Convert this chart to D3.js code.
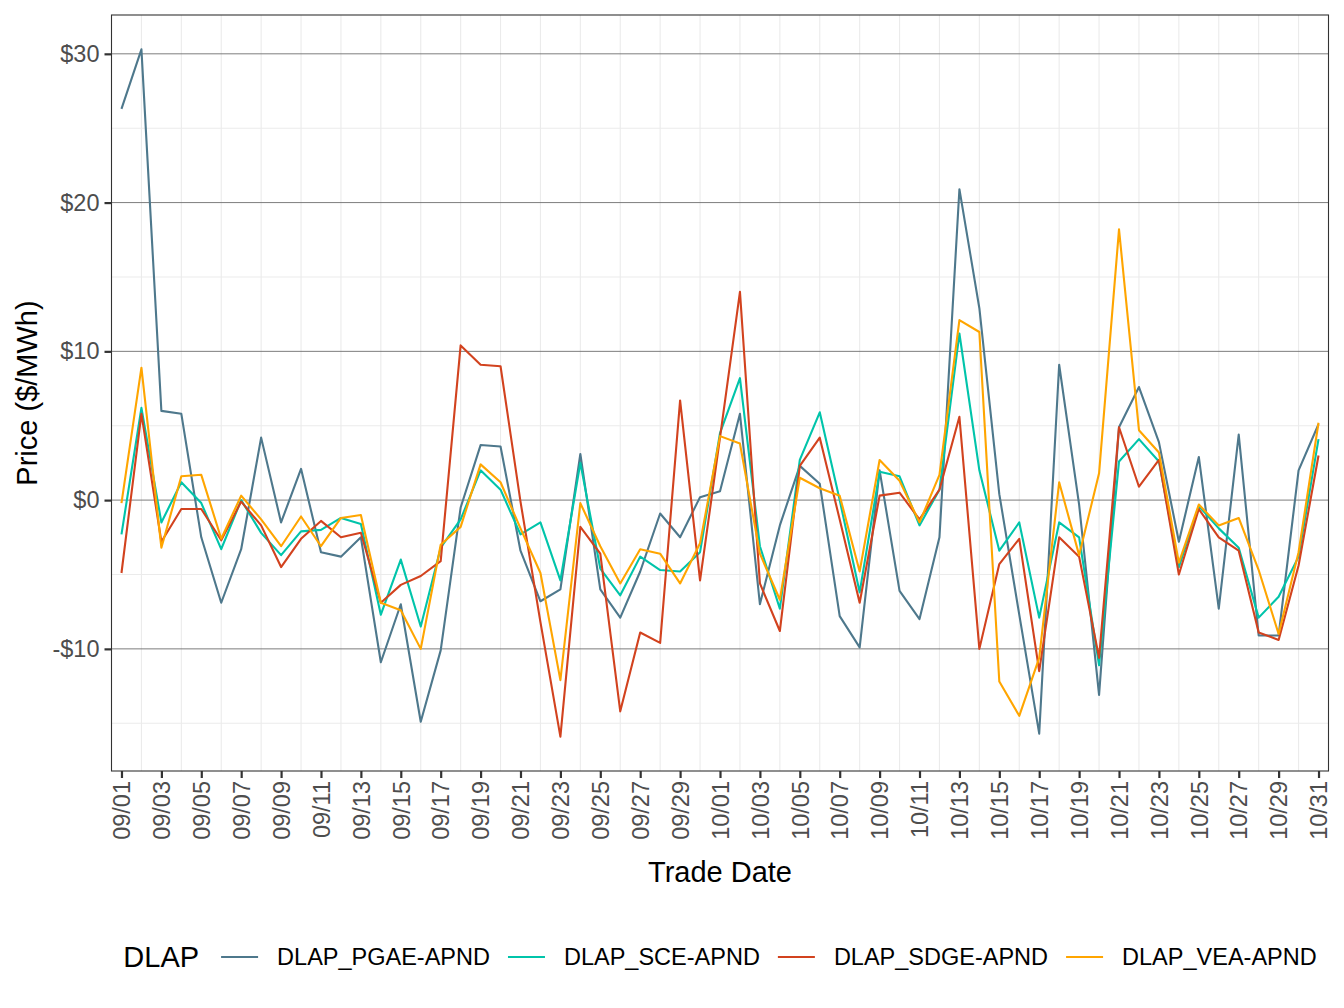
<!DOCTYPE html>
<html>
<head>
<meta charset="utf-8">
<script src="https://cdn.jsdelivr.net/npm/d3@7"></script>
<style>
body { margin: 0; background: #fff; }
text { font-family: "Liberation Sans", Arial, Helvetica, sans-serif; }
</style>
</head>
<body>
<div id="vis"></div>
<script>
//trade dates, 09/01 to 10/31
var dates = d3.timeDay.range(new Date(2023, 8, 1), new Date(2023, 10, 1)).map(d3.timeFormat("%m/%d"));

//daily DLAP prices ($/MWh)
var pgae = [26.3, 30.3, 6.0, 5.8, -2.5, -6.9, -3.3, 4.2, -1.5, 2.1,
  -3.5, -3.8, -2.5, -10.9, -7.0, -14.9, -10.1, -0.5, 3.7, 3.6,
  -3.4, -6.8, -6.0, 3.1, -6.0, -7.9, -4.8, -0.9, -2.5, 0.2,
  0.6, 5.8, -7.0, -1.7, 2.3, 1.1, -7.8, -9.9, 2.0, -6.1,
  -8.0, -2.5, 20.9, 12.9, 0.4, -7.7, -15.7, 9.1, -0.3, -13.1,
  4.9, 7.6, 3.9, -2.8, 2.9, -7.3, 4.4, -9.1, -9.1, 2.0, 5.1];
var sce = [-2.3, 6.2, -1.5, 1.2, -0.2, -3.3, 0.0, -2.2, -3.7, -2.1,
  -2.0, -1.2, -1.6, -7.7, -4.0, -8.5, -3.2, -1.3, 2.0, 0.7,
  -2.3, -1.5, -5.4, 2.5, -4.6, -6.4, -3.8, -4.7, -4.8, -3.5,
  4.5, 8.2, -3.1, -7.3, 2.7, 5.9, 0.0, -6.2, 1.9, 1.6,
  -1.7, 0.7, 11.2, 2.0, -3.4, -1.5, -7.9, -1.5, -2.5, -11.1,
  2.6, 4.1, 2.6, -4.5, -0.4, -1.9, -3.2, -7.9, -6.5, -3.8, 4.1];
var sdge = [-4.9, 5.8, -2.8, -0.6, -0.6, -2.7, -0.1, -1.7, -4.5, -2.6,
  -1.4, -2.5, -2.2, -6.9, -5.7, -5.1, -4.1, 10.4, 9.1, 9.0,
  -0.1, -8.2, -15.9, -1.8, -3.6, -14.2, -8.9, -9.6, 6.7, -5.4,
  4.2, 14.0, -5.6, -8.8, 2.3, 4.2, -1.3, -6.9, 0.3, 0.5,
  -1.3, 0.7, 5.6, -10.0, -4.3, -2.6, -11.5, -2.5, -3.8, -10.6,
  4.9, 0.9, 2.7, -5.0, -0.6, -2.5, -3.4, -8.9, -9.4, -4.4, 3.0];
var vea = [-0.2, 8.9, -3.2, 1.6, 1.7, -2.6, 0.3, -1.3, -3.1, -1.1,
  -3.1, -1.2, -1.0, -6.9, -7.4, -10.0, -3.0, -1.8, 2.4, 1.2,
  -1.9, -4.9, -12.1, -0.2, -3.1, -5.6, -3.3, -3.6, -5.6, -2.9,
  4.3, 3.8, -3.6, -6.7, 1.5, 0.8, 0.3, -4.8, 2.7, 1.3,
  -1.5, 1.7, 12.1, 11.3, -12.2, -14.5, -10.6, 1.2, -3.7, 1.8,
  18.2, 4.7, 3.2, -4.2, -0.3, -1.7, -1.2, -4.7, -9.0, -3.5, 5.2];

var seriesNames = ["DLAP_PGAE-APND", "DLAP_SCE-APND", "DLAP_SDGE-APND", "DLAP_VEA-APND"];
var seriesColors = ["#4E788C", "#00C4AA", "#D2421E", "#FFA500"];
var yTicks = [-10, 0, 10, 20, 30];
var yMinor = [-15, -5, 5, 15, 25];

var series = [pgae, sce, sdge, vea].map(function(vals, k) {
  return { name: seriesNames[k], values: vals.map(function(v, i) { return { date: dates[i], value: v }; }) };
});

var w = 1344;
var h = 1008;
var pLeft = 111.5, pRight = 1328.5, pTop = 15, pBottom = 771;

var svg = d3.select("#vis")
.append("svg")
.attr("width", w)
.attr("height", h);

//scale for x (one slot per trade date)
var x = d3.scalePoint()
.domain(dates)
.range([pLeft, pRight])
.padding(0.5)

//scale for y, ggplot style 5% expansion
var all = [].concat(pgae, sce, sdge, vea);
var lo = d3.min(all), hi = d3.max(all);
var pad = (hi - lo) * 0.05;
var y = d3.scaleLinear()
.domain([lo - pad, hi + pad])
.range([pBottom, pTop])

var colors = d3.scaleOrdinal()
.domain(seriesNames)
.range(seriesColors)

//grid lines
var grid = svg.append("g");
grid.selectAll(".xminor")
.data(dates.filter(function(d, i) { return i % 2 == 1; }))
.enter()
.append("line")
.attr("x1", d => x(d)).attr("x2", d => x(d))
.attr("y1", pTop).attr("y2", pBottom)
.attr("stroke", "#EBEBEB").attr("stroke-width", 1.1)

grid.selectAll(".yminor")
.data(yMinor)
.enter()
.append("line")
.attr("x1", pLeft).attr("x2", pRight)
.attr("y1", d => y(d)).attr("y2", d => y(d))
.attr("stroke", "#EBEBEB").attr("stroke-width", 1.1)

grid.selectAll(".ymajor")
.data(yTicks)
.enter()
.append("line")
.attr("x1", pLeft).attr("x2", pRight)
.attr("y1", d => y(d)).attr("y2", d => y(d))
.attr("stroke", "#6E6E6E").attr("stroke-width", 0.9)

//Draw the lines
var line = d3.line()
.x(d => x(d.date))
.y(d => y(d.value))

svg.append("g")
.selectAll("path")
.data(series)
.enter()
.append("path")
.attr("d", d => line(d.values))
.attr("fill", "none")
.attr("stroke", d => colors(d.name))
.attr("stroke-width", 2.1)
.attr("stroke-linejoin", "round")

//panel border
svg.append("rect")
.attr("x", pLeft).attr("y", pTop)
.attr("width", pRight - pLeft).attr("height", pBottom - pTop)
.attr("fill", "none").attr("stroke", "#333333").attr("stroke-width", 1.1)

//Draw Axis
var yAxis = svg.append("g")
.attr("transform", `translate(${pLeft}, 0)`)
.call(d3.axisLeft(y).tickValues(yTicks).tickSize(7).tickPadding(5)
  .tickFormat(d => d < 0 ? "-$" + Math.abs(d) : "$" + d));

var xAxis = svg.append("g")
.attr("transform", `translate(0, ${pBottom})`)
.call(d3.axisBottom(x).tickValues(dates.filter(function(d, i) { return i % 2 == 0; })).tickSize(7));

[yAxis, xAxis].forEach(function(a) {
  a.select(".domain").remove();
  a.selectAll(".tick line").attr("stroke", "#333333").attr("stroke-width", 2.2);
  a.selectAll(".tick text").attr("fill", "#4D4D4D").style("font-size", "23.5px")
    .style("font-family", "'Liberation Sans', Arial, sans-serif");
});

xAxis.selectAll(".tick text")
.attr("transform", "rotate(-90)")
.attr("x", -10)
.attr("y", 0)
.attr("dy", "0.35em")
.attr("text-anchor", "end")

//axis titles
svg.append("text")
.attr("x", (pLeft + pRight) / 2)
.attr("y", 882)
.attr("text-anchor", "middle")
.style("font-size", "29px")
.text("Trade Date")

svg.append("text")
.attr("transform", `translate(37, ${(pTop + pBottom) / 2}) rotate(-90)`)
.attr("text-anchor", "middle")
.style("font-size", "29px")
.text("Price ($/MWh)")

//legend along the bottom
var legend = svg.append("g");
var ly = 957;
var title = legend.append("text")
.attr("x", 0).attr("y", ly).attr("dy", "0.35em")
.style("font-size", "29px")
.text("DLAP");
var cursor = title.node().getComputedTextLength() + 22;
seriesNames.forEach(function(name) {
  legend.append("line")
  .attr("x1", cursor).attr("x2", cursor + 37)
  .attr("y1", ly).attr("y2", ly)
  .attr("stroke", colors(name)).attr("stroke-width", 2.1);
  var t = legend.append("text")
  .attr("x", cursor + 56).attr("y", ly).attr("dy", "0.35em")
  .style("font-size", "23.5px")
  .text(name);
  cursor += 56 + t.node().getComputedTextLength() + 18;
});
cursor -= 18;
legend.attr("transform", `translate(${(pLeft + pRight) / 2 - cursor / 2}, 0)`);
</script>
</body>
</html>
